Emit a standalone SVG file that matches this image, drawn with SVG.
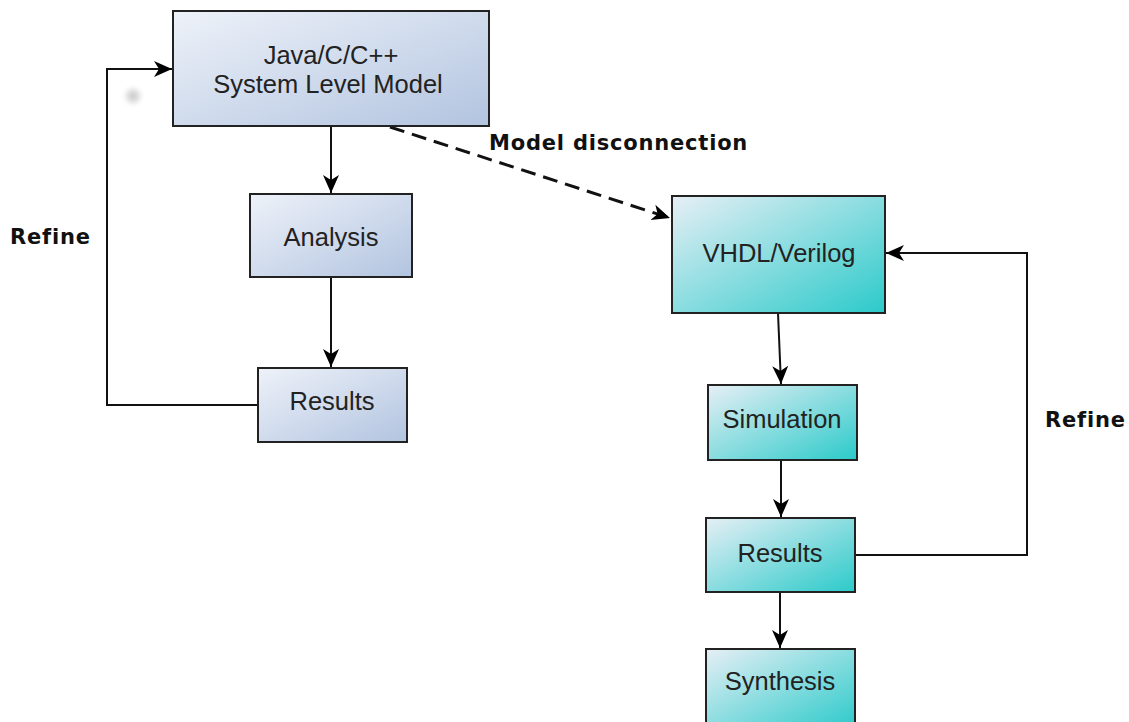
<svg xmlns="http://www.w3.org/2000/svg" width="1129" height="722" viewBox="0 0 1129 722">
  <defs>
    <linearGradient id="gBlue" x1="0" y1="0" x2="1" y2="1">
      <stop offset="0" stop-color="#eef2f9"/>
      <stop offset="1" stop-color="#b2c4e0"/>
    </linearGradient>
    <linearGradient id="gCyan" x1="0" y1="0" x2="1" y2="1">
      <stop offset="0" stop-color="#e6eff5"/>
      <stop offset="1" stop-color="#2ccaca"/>
    </linearGradient>
    <radialGradient id="smudge">
      <stop offset="0" stop-color="#cdcdcd"/>
      <stop offset="0.4" stop-color="#e2e2e2"/>
      <stop offset="1" stop-color="#ffffff" stop-opacity="0"/>
    </radialGradient>
    <marker id="arrow" markerUnits="userSpaceOnUse" markerWidth="20" markerHeight="18" refX="18" refY="9" orient="auto">
      <path d="M0,1 L18,9 L0,17 L5,9 z" fill="#000"/>
    </marker>
  </defs>
  <style>
    .box { stroke: #222; stroke-width: 2; }
    .blue { fill: url(#gBlue); }
    .cyan { fill: url(#gCyan); }
    .label { font-family: "Liberation Sans", Arial, sans-serif; font-size: 25.5px; fill: #222; text-anchor: middle; }
    .note { font-family: "DejaVu Sans", Verdana, sans-serif; font-weight: bold; font-size: 21px; letter-spacing: 0.8px; fill: #111; }
    .edge { fill: none; stroke: #111; stroke-width: 2; }
    .dash { fill: none; stroke: #111; stroke-width: 3; stroke-dasharray: 15 8; }
  </style>

  <rect width="1129" height="722" fill="#fff"/>
  <ellipse cx="133" cy="96" rx="13" ry="13" fill="url(#smudge)"/>

  <g id="connectors">
    <line class="edge" x1="331" y1="126" x2="331" y2="193" marker-end="url(#arrow)"/>
    <line class="edge" x1="331" y1="277" x2="331" y2="367" marker-end="url(#arrow)"/>
    <polyline class="edge" points="258,405 107,405 107,69 172,69" marker-end="url(#arrow)"/>
    <line class="dash" x1="390" y1="127" x2="670" y2="218" marker-end="url(#arrow)"/>
    <line class="edge" x1="778" y1="313" x2="781" y2="384" marker-end="url(#arrow)"/>
    <line class="edge" x1="781" y1="460" x2="781" y2="517" marker-end="url(#arrow)"/>
    <line class="edge" x1="780" y1="592" x2="780" y2="648" marker-end="url(#arrow)"/>
    <polyline class="edge" points="855,555 1027,555 1027,253 886,253" marker-end="url(#arrow)"/>
  </g>

  <g id="system-model">
    <rect class="box blue" x="173" y="11" width="316" height="115"/>
    <text class="label" x="331" y="64">Java/C/C++</text>
    <text class="label" x="328" y="93">System Level Model</text>
  </g>
  <g id="analysis">
    <rect class="box blue" x="250" y="194" width="162" height="83"/>
    <text class="label" x="331" y="246">Analysis</text>
  </g>
  <g id="results-model">
    <rect class="box blue" x="258" y="368" width="149" height="74"/>
    <text class="label" x="332" y="410">Results</text>
  </g>
  <g id="hdl">
    <rect class="box cyan" x="672" y="196" width="213" height="117"/>
    <text class="label" x="779" y="262">VHDL/Verilog</text>
  </g>
  <g id="simulation">
    <rect class="box cyan" x="708" y="385" width="149" height="75"/>
    <text class="label" x="782" y="428">Simulation</text>
  </g>
  <g id="results-hdl">
    <rect class="box cyan" x="706" y="518" width="149" height="74"/>
    <text class="label" x="780" y="562">Results</text>
  </g>
  <g id="synthesis">
    <rect class="box cyan" x="706" y="649" width="149" height="80"/>
    <text class="label" x="780" y="690">Synthesis</text>
  </g>

  <g id="notes">
    <text class="note" x="10" y="244">Refine</text>
    <text class="note" x="1045" y="427">Refine</text>
    <text class="note" x="489" y="150">Model disconnection</text>
  </g>
</svg>
